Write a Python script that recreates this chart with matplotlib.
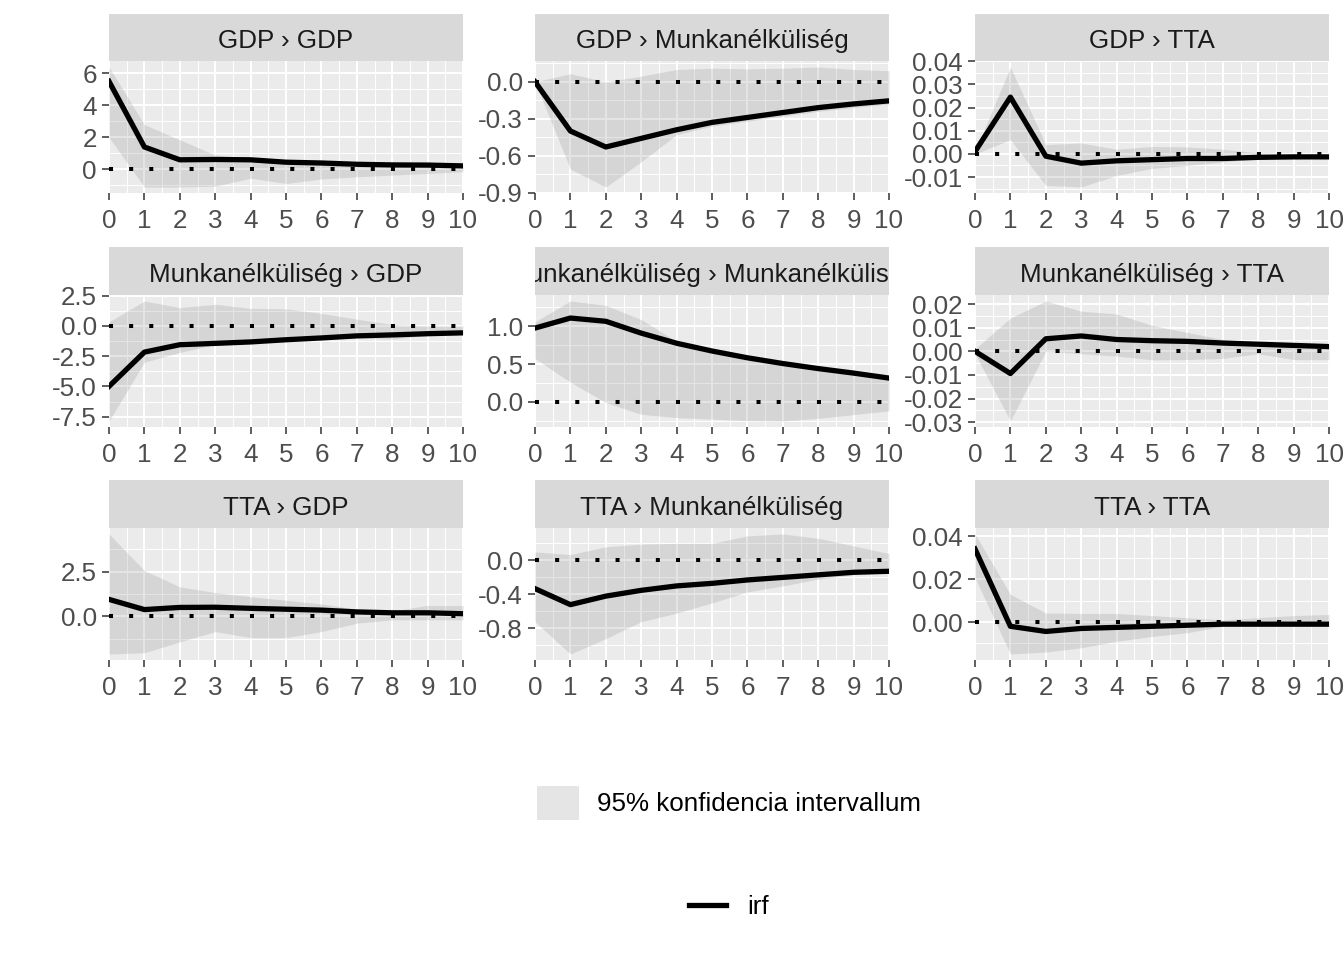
import matplotlib
matplotlib.use('Agg')
import matplotlib.pyplot as plt
from matplotlib.patches import Patch
from matplotlib.lines import Line2D
import numpy as np

plt.rcParams['font.family'] = ['Liberation Sans', 'DejaVu Sans']

# horizon (periods after the shock)
steps = list(range(11))

titles = ['GDP › GDP', 'GDP › Munkanélküliség', 'GDP › TTA',
          'Munkanélküliség › GDP', 'Munkanélküliség › Munkanélküliség', 'Munkanélküliség › TTA',
          'TTA › GDP', 'TTA › Munkanélküliség', 'TTA › TTA']

# impulse responses and 95% bands
irf_gdp_gdp = [5.5, 1.4, 0.6, 0.62, 0.6, 0.45, 0.4, 0.32, 0.28, 0.27, 0.22]
hi_gdp_gdp = [6.4, 2.8, 1.85, 0.9, 0.7, 0.55, 0.5, 0.45, 0.4, 0.35, 0.3]
lo_gdp_gdp = [2.0, -1.1, -1.1, -1.05, -0.55, -0.88, -0.6, -0.46, -0.36, -0.25, -0.15]

irf_gdp_mun = [0.0, -0.4, -0.53, -0.46, -0.39, -0.33, -0.29, -0.25, -0.21, -0.18, -0.155]
hi_gdp_mun = [0.0, 0.065, 0.0, 0.045, 0.1, 0.11, 0.105, 0.11, 0.12, 0.1, 0.09]
lo_gdp_mun = [0.0, -0.71, -0.855, -0.65, -0.43, -0.36, -0.32, -0.28, -0.24, -0.21, -0.18]

irf_gdp_tta = [0.001, 0.0245, -0.001, -0.004, -0.003, -0.0025, -0.002, -0.002, -0.0015, -0.0013, -0.0013]
hi_gdp_tta = [0.001, 0.0375, 0.004, 0.0047, 0.002, 0.0032, 0.003, 0.002, 0.0005, 0.0, 0.0]
lo_gdp_tta = [0.0, 0.0061, -0.0136, -0.0143, -0.0093, -0.0063, -0.005, -0.0035, -0.002, -0.002, -0.002]

irf_mun_gdp = [-5.0, -2.17, -1.56, -1.45, -1.33, -1.15, -1.0, -0.83, -0.75, -0.65, -0.58]
hi_mun_gdp = [0.33, 2.05, 1.5, 1.78, 1.44, 1.4, 1.03, 0.55, 0.11, 0.0, 0.0]
lo_mun_gdp = [-7.86, -3.0, -2.2, -1.53, -1.35, -1.2, -1.1, -1.0, -1.1, -0.8, -0.7]

irf_mun_mun = [0.977, 1.11, 1.067, 0.91, 0.776, 0.673, 0.583, 0.507, 0.44, 0.38, 0.314]
hi_mun_mun = [1.06, 1.336, 1.278, 1.09, 0.8, 0.7, 0.6, 0.52, 0.45, 0.4, 0.33]
lo_mun_mun = [0.574, 0.26, -0.01, -0.166, -0.21, -0.23, -0.25, -0.255, -0.22, -0.17, -0.12]

irf_mun_tta = [0.0, -0.0094, 0.0053, 0.0065, 0.005, 0.0045, 0.0042, 0.0035, 0.003, 0.0025, 0.002]
hi_mun_tta = [0.001, 0.0141, 0.0213, 0.017, 0.0158, 0.011, 0.008, 0.005, 0.004, 0.003, 0.003]
lo_mun_tta = [-0.001, -0.0295, 0.0, -0.001, -0.002, -0.0036, -0.0035, -0.003, -0.001, -0.0035, -0.0035]

irf_tta_gdp = [0.95, 0.38, 0.5, 0.51, 0.45, 0.4, 0.35, 0.25, 0.2, 0.2, 0.15]
hi_tta_gdp = [4.6, 2.56, 1.65, 1.33, 1.1, 0.9, 0.7, 0.4, 0.3, 0.61, 0.6]
lo_tta_gdp = [-2.1, -2.03, -1.42, -0.85, -1.19, -1.19, -0.85, -0.38, -0.19, -0.19, -0.19]

irf_tta_mun = [-0.332, -0.52, -0.42, -0.352, -0.3, -0.27, -0.23, -0.2, -0.17, -0.14, -0.128]
hi_tta_mun = [0.1, 0.068, 0.16, 0.19, 0.2, 0.2, 0.288, 0.31, 0.26, 0.17, 0.08]
lo_tta_mun = [-0.72, -1.1, -0.92, -0.72, -0.62, -0.5, -0.37, -0.3, -0.22, -0.17, -0.14]

irf_tta_tta = [0.034, -0.002, -0.0044, -0.003, -0.0025, -0.002, -0.0015, -0.001, -0.001, -0.001, -0.001]
hi_tta_tta = [0.041, 0.0129, 0.0042, 0.004, 0.004, 0.003, 0.002, 0.001, 0.002, 0.003, 0.0035]
lo_tta_tta = [0.0207, -0.0149, -0.014, -0.012, -0.009, -0.0067, -0.005, -0.002, -0.002, -0.002, -0.002]

irfs = [irf_gdp_gdp, irf_gdp_mun, irf_gdp_tta, irf_mun_gdp, irf_mun_mun, irf_mun_tta,
        irf_tta_gdp, irf_tta_mun, irf_tta_tta]
uppers = [hi_gdp_gdp, hi_gdp_mun, hi_gdp_tta, hi_mun_gdp, hi_mun_mun, hi_mun_tta,
          hi_tta_gdp, hi_tta_mun, hi_tta_tta]
lowers = [lo_gdp_gdp, lo_gdp_mun, lo_gdp_tta, lo_mun_gdp, lo_mun_mun, lo_mun_tta,
          lo_tta_gdp, lo_tta_mun, lo_tta_tta]

y_ticks = [[0, 2, 4, 6], [-0.9, -0.6, -0.3, 0.0], [-0.01, 0.0, 0.01, 0.02, 0.03, 0.04],
           [-7.5, -5.0, -2.5, 0.0, 2.5], [0.0, 0.5, 1.0], [-0.03, -0.02, -0.01, 0.0, 0.01, 0.02],
           [0.0, 2.5], [-0.8, -0.4, 0.0], [0.0, 0.02, 0.04]]
y_decimals = [0, 1, 2, 1, 1, 2, 1, 1, 2]

W, H = 1344, 960
cols = [(109, 463), (535, 889), (975, 1329)]
rows = [(14, 61, 193), (247, 295, 427), (480, 528, 660)]
FS = 18.7
BAND = '#7F7F7F'


def rect(x0, y0, x1, y1):
    return [x0 / W, 1 - y1 / H, (x1 - x0) / W, (y1 - y0) / H]


def minor_breaks(major, lo, hi):
    step = major[1] - major[0]
    ext = [major[0] - step] + list(major) + [major[-1] + step]
    mids = [(a + b) / 2 for a, b in zip(ext[:-1], ext[1:])]
    return [m for m in mids if lo <= m <= hi]


fig = plt.figure(figsize=(W / 100, H / 100), dpi=100)

for i in range(9):
    r, c = divmod(i, 3)
    x0, x1 = cols[c]
    top, ptop, pbot = rows[r]

    strip = fig.add_axes(rect(x0, top, x1, ptop))
    strip.set_facecolor('#D9D9D9')
    strip.set_xticks([])
    strip.set_yticks([])
    for s in strip.spines.values():
        s.set_visible(False)
    strip.text(0.5, 0.42, titles[i], transform=strip.transAxes, ha='center', va='center',
               fontsize=FS, color='#1A1A1A', clip_on=True)

    ax = fig.add_axes(rect(x0, ptop, x1, pbot))
    ax.set_facecolor('#EBEBEB')
    ax.set_axisbelow(True)
    ax.fill_between(steps, lowers[i], uppers[i], color=BAND, alpha=0.2, lw=0)
    ax.axhline(0, color='black', lw=2.9, dashes=(1, 4), dash_capstyle='butt')
    ax.plot(steps, irfs[i], color='black', lw=3.8, solid_joinstyle='round')

    ymin = min(min(lowers[i]), min(irfs[i]), 0)
    ymax = max(max(uppers[i]), max(irfs[i]), 0)
    pad = 0.05 * (ymax - ymin)
    ax.set_xlim(0, 10)
    ax.set_ylim(ymin - pad, ymax + pad)

    ax.set_xticks(steps)
    ax.set_xticks([s + 0.5 for s in steps[:-1]], minor=True)
    ax.set_yticks(y_ticks[i])
    ax.set_yticklabels([f'{v:.{y_decimals[i]}f}' for v in y_ticks[i]])
    ax.set_yticks(minor_breaks(y_ticks[i], ymin - pad, ymax + pad), minor=True)

    ax.grid(which='major', color='white', lw=1.4)
    ax.grid(which='minor', color='white', lw=0.7)
    for s in ax.spines.values():
        s.set_visible(False)
    ax.tick_params(which='major', length=5.2, width=1.1, color='#333333',
                   labelcolor='#4D4D4D', labelsize=FS)
    ax.tick_params(axis='x', pad=6.5)
    ax.tick_params(axis='y', pad=3.5)
    ax.tick_params(which='minor', length=0)

fs_px = FS * 100 / 72
fig.legend(handles=[Patch(facecolor=BAND, alpha=0.2, edgecolor='none')],
           labels=['95% konfidencia intervallum'], loc='center',
           bbox_to_anchor=(729 / W, 1 - 803 / H), frameon=False, fontsize=FS,
           handlelength=42 / fs_px, handleheight=42 / fs_px, handletextpad=18 / fs_px,
           borderpad=0, borderaxespad=0)
fig.legend(handles=[Line2D([0], [0], color='black', lw=3.8)],
           labels=['irf'], loc='center',
           bbox_to_anchor=(729 / W, 1 - 907 / H), frameon=False, fontsize=FS,
           handlelength=37 / fs_px, handletextpad=21 / fs_px,
           borderpad=0, borderaxespad=0)

fig.savefig('out.png', dpi=100)
